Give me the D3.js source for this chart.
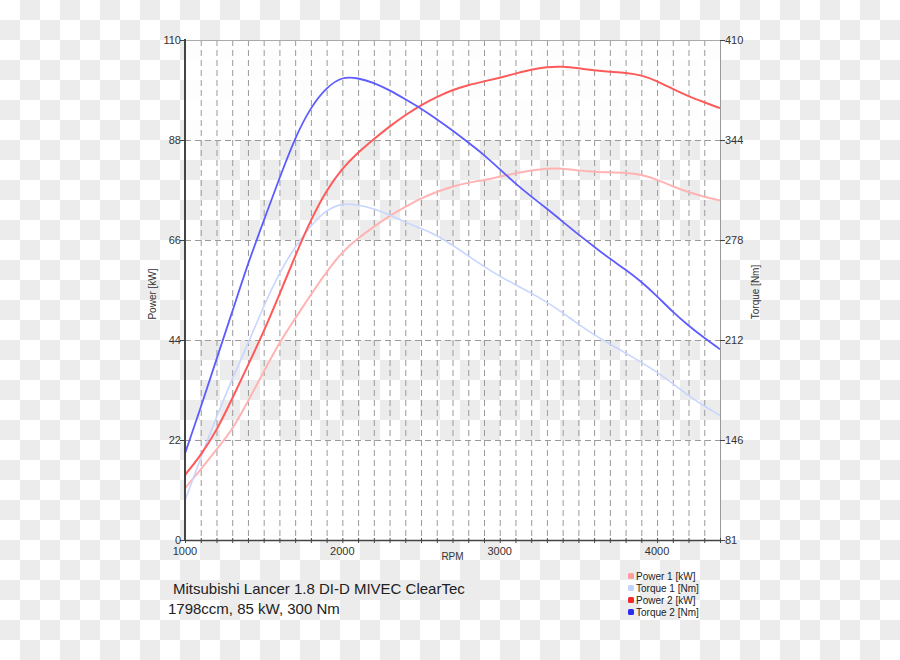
<!DOCTYPE html>
<html><head><meta charset="utf-8">
<script src="https://cdn.jsdelivr.net/npm/d3@7"></script>
<style>
html,body{margin:0;padding:0;background:#fff;}
svg{display:block;font-family:"Liberation Sans",Arial,sans-serif;}
</style></head>
<body><svg id="chart" width="900" height="660"></svg>
<script>
// ---- data ----
const rpm = [1000,1100,1200,1300,1400,1500,1600,1700,1800,1900,2000,2100,2200,2300,2400,2500,2600,2700,2800,2900,3000,3100,3200,3300,3400,3500,3600,3700,3800,3900,4000,4100,4200,4300,4400];
const power1 = [11.4,15.5,19.9,24.2,30.5,37,43.5,48.7,54,59,63.5,66.4,68.9,71.3,73.3,75.2,76.6,77.8,78.6,79.2,79.9,80.7,81.3,81.8,81.7,81.3,81,80.9,80.8,80.4,79.3,77.8,76.5,75.5,74.7];
const torque1 = [107,135,162,187,210,235,257,274,288,298.5,302.5,301.5,299,295,290,286,281.5,275,268,261,254.5,249,243.5,237.5,230.5,223,216,210,204,198,191.5,184,176,169,163];
const power2 = [14.3,18.6,24,31.1,38.4,45.8,54,62.5,70.5,77,81.8,85.3,88.2,91,93.5,95.7,97.5,99,100.1,100.9,101.7,102.6,103.5,104.1,104.2,103.8,103.3,103,102.8,102.3,101,99.2,97.6,96.3,95];
const torque2 = [138,168,200,231,263,291,319,346,366,379,386,385,382,377,371,365,358,350.5,342.5,334.5,325,315.5,307,299,290.5,282,274,266,259,251,241.5,231,222,214,206.5];
const leftTicks = [0,22,44,66,88,110];
const rightTickLabels = ["81","146","212","278","344","410"];
const xLabelTicks = [1000,2000,3000,4000];
const seriesNames = ["Power 1 [kW]","Torque 1 [Nm]","Power 2 [kW]","Torque 2 [Nm]"];
const titleLines = ["Mitsubishi Lancer 1.8 DI-D MIVEC ClearTec","1798ccm, 85 kW, 300 Nm"];

// ---- layout ----
const W=900,H=660;
const L=185,R=720,T=40,B=540;
const svg=d3.select("#chart");
const x=d3.scaleLinear().domain([1000,4400]).range([L,R]);
const yL=d3.scaleLinear().domain([0,110]).range([B,T]);
const yR=d3.scaleLinear().domain([81,410]).range([B,T]);

// checkerboard background
const sq=20, cells=[];
for(let i=0;i<W/sq;i++)for(let j=0;j<H/sq;j++) if((i+j)%2===1) cells.push([i,j]);
svg.append("rect").attr("width",W).attr("height",H).attr("fill","#fff");
svg.append("g").selectAll("rect").data(cells).join("rect")
  .attr("x",d=>d[0]*sq).attr("y",d=>d[1]*sq).attr("width",sq).attr("height",sq).attr("fill","#ececec");

// plot bands
const bands=[[0,22,1],[44,66,1],[88,110,0.9]];
svg.append("g").selectAll("rect").data(bands).join("rect")
  .attr("x",L).attr("width",R-L).attr("y",d=>yL(d[1])).attr("height",d=>yL(d[0])-yL(d[1]))
  .attr("fill","#fff").attr("fill-opacity",d=>d[2]);

// grid
const minor=d3.range(1100,4400,100);
svg.append("g").selectAll("line").data(minor).join("line")
  .attr("x1",d=>x(d)+0.5).attr("x2",d=>x(d)+0.5).attr("y1",T).attr("y2",B)
  .attr("stroke","#9a9a9a").attr("stroke-width",1).attr("stroke-dasharray","6,4");
svg.append("g").selectAll("line").data(leftTicks.slice(1,-1)).join("line")
  .attr("x1",L).attr("x2",R).attr("y1",d=>yL(d)+0.5).attr("y2",d=>yL(d)+0.5)
  .attr("stroke","#9a9a9a").attr("stroke-width",1).attr("stroke-dasharray","6,4");

// frame
svg.append("line").attr("x1",L).attr("x2",R).attr("y1",T+0.5).attr("y2",T+0.5).attr("stroke","#aaa");
svg.append("line").attr("x1",R+0.5).attr("x2",R+0.5).attr("y1",T).attr("y2",B).attr("stroke","#999");

// curves
const series=[
  {v:power1,s:yL,c:"#ffb3b3",w:2},
  {v:torque1,s:yR,c:"#c8d6ff",w:1.6},
  {v:power2,s:yL,c:"#ff5a5a",w:2},
  {v:torque2,s:yR,c:"#5c5cff",w:1.8}
];
svg.append("clipPath").attr("id","pc").append("rect").attr("x",L).attr("y",T).attr("width",R-L).attr("height",B-T);
series.forEach(s=>{
  const line=d3.line().x((d,i)=>x(rpm[i])).y(d=>s.s(d)).curve(d3.curveBasis);
  svg.append("path").attr("d",line(s.v)).attr("fill","none").attr("stroke",s.c)
    .attr("stroke-width",s.w).attr("clip-path","url(#pc)");
});

// axes
const ax=svg.append("g").attr("font-size",11).attr("fill","#333");
ax.append("line").attr("x1",L).attr("x2",L).attr("y1",T-1).attr("y2",B+1).attr("stroke","#444").attr("stroke-width",2);
ax.append("line").attr("x1",L).attr("x2",R+1).attr("y1",B+0.5).attr("y2",B+0.5).attr("stroke","#444").attr("stroke-width",1.5);
ax.selectAll(".lt").data(leftTicks).join("line").attr("x1",L-5).attr("x2",L).attr("y1",d=>yL(d)+0.5).attr("y2",d=>yL(d)+0.5).attr("stroke","#444");
ax.selectAll(".ll").data(leftTicks).join("text").attr("x",L-4).attr("y",d=>yL(d)+4).attr("text-anchor","end").text(d=>d);
ax.selectAll(".rt").data(rightTickLabels).join("line").attr("x1",R).attr("x2",R+5).attr("y1",(d,i)=>yL(leftTicks[i])+0.5).attr("y2",(d,i)=>yL(leftTicks[i])+0.5).attr("stroke","#444");
ax.selectAll(".rl").data(rightTickLabels).join("text").attr("x",R+5).attr("y",(d,i)=>yL(leftTicks[i])+4).attr("text-anchor","start").text(d=>d);
ax.selectAll(".xt").data(d3.range(1000,4500,100)).join("line").attr("x1",d=>x(d)+0.5).attr("x2",d=>x(d)+0.5).attr("y1",B-2).attr("y2",B+3).attr("stroke","#444");
ax.selectAll(".xl").data(xLabelTicks).join("text").attr("x",d=>x(d)).attr("y",B+15).attr("text-anchor","middle").text(d=>d);

// axis titles
svg.append("text").attr("x",(L+R)/2).attr("y",B+20).attr("text-anchor","middle").attr("font-size",10).attr("fill","#333").text("RPM");
svg.append("text").attr("transform","translate(156,294) rotate(-90)").attr("text-anchor","middle").attr("font-size",10).attr("fill","#333").text("Power [kW]");
svg.append("text").attr("transform","translate(759,292) rotate(-90)").attr("text-anchor","middle").attr("font-size",10).attr("fill","#333").text("Torque [Nm]");

// title
svg.append("rect").attr("x",164).attr("y",580).attr("width",322).attr("height",20).attr("fill","#ececec");
svg.append("text").attr("x",173).attr("y",594).attr("font-size",15).attr("fill","#222").text(titleLines[0]);
svg.append("text").attr("x",168).attr("y",614).attr("font-size",15).attr("fill","#222").text(titleLines[1]);

// legend
const legColors=["#ff9c9c","#c3d3ff","#ee2a2a","#2c2cf0"];
const lg=svg.append("g").selectAll("g").data(seriesNames).join("g").attr("transform",(d,i)=>`translate(628,${576+i*12})`);
lg.append("rect").attr("x",0).attr("y",-3).attr("width",6).attr("height",6).attr("rx",1.5).attr("fill",(d,i)=>legColors[i]);
lg.append("text").attr("x",8).attr("y",4).attr("font-size",10).attr("fill","#222").text(d=>d);
</script></body></html>
